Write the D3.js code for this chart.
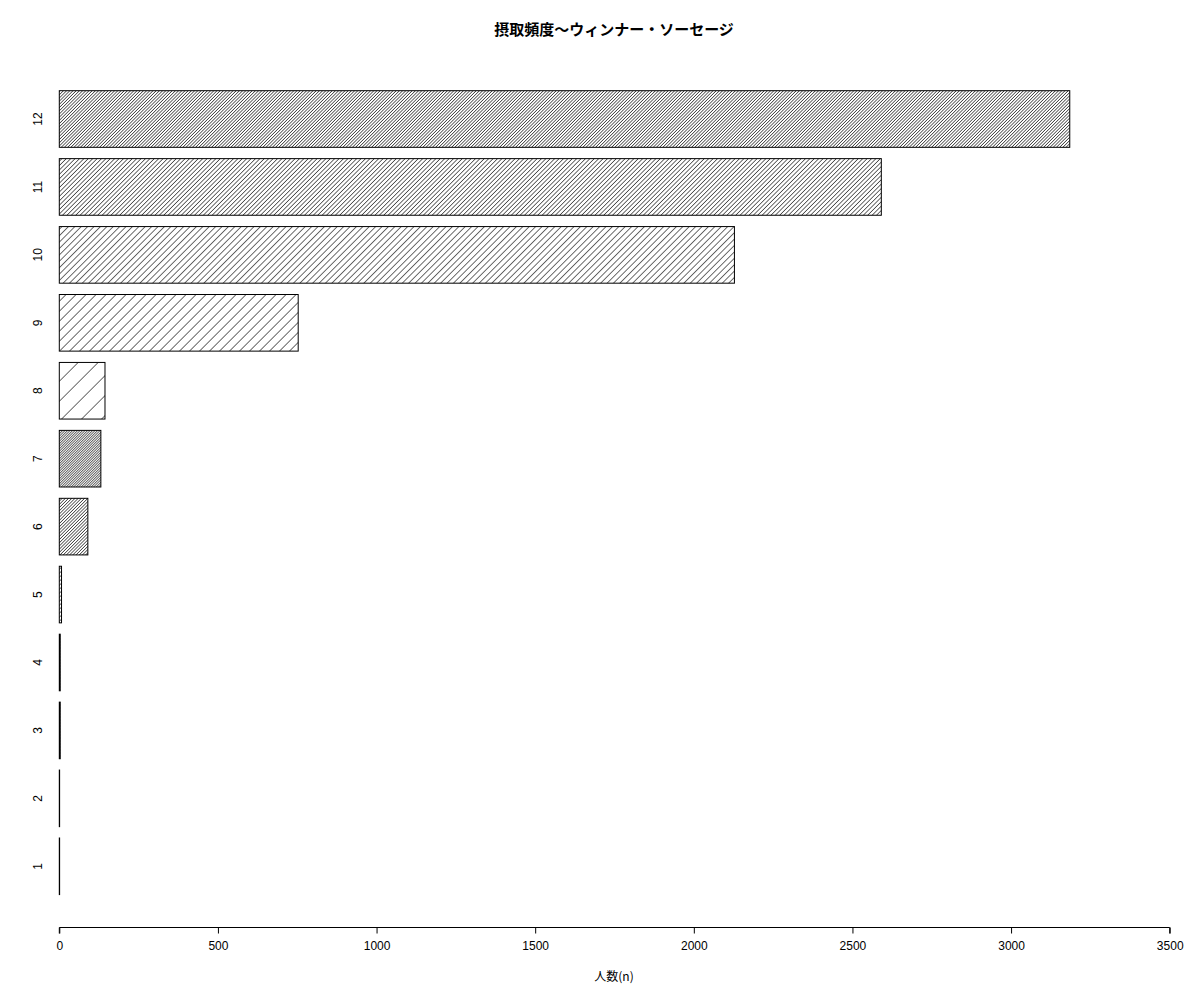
<!DOCTYPE html>
<html>
<head>
<meta charset="utf-8">
<script src="https://cdn.jsdelivr.net/npm/d3@7"></script>
<style>
body { margin: 0; background: #fff; }
text { font-family: "Liberation Sans", Arial, sans-serif; fill: #000; }
</style>
</head>
<body>
<svg id="chart" width="1200" height="1000"></svg>
<script>
// 摂取頻度カテゴリ (1..12) と人数
var categories = ["1", "2", "3", "4", "5", "6", "7", "8", "9", "10", "11", "12"];
var counts = [1, 1, 3, 3, 7, 90, 131, 144, 753, 2128, 2591, 3185];
var xTicks = [0, 500, 1000, 1500, 2000, 2500, 3000, 3500];

// hatch spacing per bar (px, horizontal), style only
var hatchGap = [4, 4, 3, 3, 4, 3.2, 2.5, 20, 10, 6.4, 4.4, 3.2];

var svg = d3.select("#chart");

var x = d3.scaleLinear().domain([0, 3500]).range([59.3, 1169.7]);
var y = d3.scaleBand()
    .domain(categories.slice().reverse())
    .range([90.7, 894.6])
    .paddingInner(1 / 6)
    .paddingOuter(0);

var defs = svg.append("defs");
categories.forEach(function(c, i) {
  var g = hatchGap[i];
  var p = defs.append("pattern")
      .attr("id", "hatch" + i)
      .attr("patternUnits", "userSpaceOnUse")
      .attr("width", g / Math.SQRT2)
      .attr("height", 10)
      .attr("patternTransform", "rotate(45)");
  p.append("line")
      .attr("x1", 0).attr("y1", -1)
      .attr("x2", 0).attr("y2", 11)
      .attr("stroke", "#000")
      .attr("stroke-width", 1.15);
});

svg.selectAll(".bar")
  .data(counts)
  .enter().append("rect")
    .attr("class", "bar")
    .attr("x", x(0))
    .attr("y", function(d, i) { return y(categories[i]); })
    .attr("width", function(d) { return x(d) - x(0); })
    .attr("height", y.bandwidth())
    .attr("fill", function(d, i) { return "url(#hatch" + i + ")"; })
    .attr("stroke", "#000")
    .attr("stroke-width", 1);

// y labels (rotated, like R las=0)
svg.selectAll(".ylab")
  .data(categories)
  .enter().append("text")
    .attr("class", "ylab")
    .attr("transform", function(d) {
      return "translate(38," + (y(d) + y.bandwidth() / 2) + ") rotate(-90)";
    })
    .attr("text-anchor", "middle")
    .attr("dominant-baseline", "central")
    .attr("font-size", 12)
    .text(function(d) { return d; });

// x axis
var xAxis = d3.axisBottom(x).tickValues(xTicks).tickSize(6).tickPadding(8)
    .tickFormat(d3.format("d"));
var ga = svg.append("g")
    .attr("transform", "translate(0,927.5)")
    .call(xAxis);
ga.select(".domain").attr("stroke", "#000").attr("d", "M" + x(0) + ",6V0H" + x(3500) + "V6");
ga.selectAll(".tick line").attr("stroke", "#000");
ga.selectAll(".tick text")
    .attr("font-family", "Liberation Sans, Arial, sans-serif")
    .attr("font-size", 12)
    .attr("fill", "#000");

// title
svg.append("text")
    .attr("x", 614)
    .attr("y", 35)
    .attr("text-anchor", "middle")
    .attr("font-size", 15)
    .attr("font-weight", "bold")
    .style("font-family", "'Noto Sans CJK JP', sans-serif")
    .text("摂取頻度〜ウィンナー・ソーセージ");

// x axis title
svg.append("text")
    .attr("x", 614)
    .attr("y", 981)
    .attr("text-anchor", "middle")
    .attr("font-size", 12)
    .style("font-family", "'Noto Sans CJK JP', 'Liberation Sans', sans-serif")
    .text("人数(n)");
</script>
</body>
</html>
